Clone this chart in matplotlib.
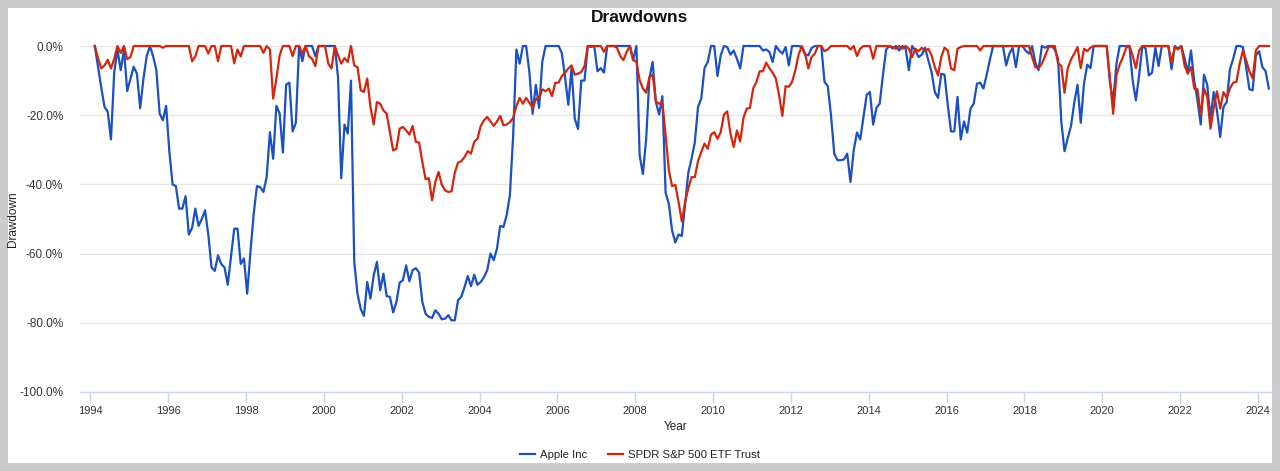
import numpy as np
import matplotlib.pyplot as plt
from matplotlib.patches import Rectangle
from matplotlib.lines import Line2D

plt.rcParams['font.family'] = ['Liberation Sans', 'DejaVu Sans']

# monthly drawdowns in %, Jan 1994 .. Mar 2024
apple_dd = [
    0, -6, -12, -17.6, -19, -27, -7.5, -1, -7, -1, -13, -9.5,
    -6, -8, -18, -9.5, -3, 0, -3, -7, -19.5, -21.5, -17.3, -30.6,
    -40, -40.5, -47, -47, -43.4, -54.5, -52.6, -47, -52, -50, -47.5, -54.5,
    -64, -65, -60.5, -63, -64, -69, -61, -52.8, -52.8, -63, -61.4, -71.6,
    -59.5, -48.5, -40.5, -40.8, -42.2, -37.9, -24.9, -32.6, -17.3, -19.5, -30.8, -11.2,
    -10.6, -24.7, -22.2, 0, -4.4, 0, 0, 0, -2.9, 0, 0, 0,
    0, 0, 0, -9, -38.2, -22.7, -25.3, -10, -62.4, -71.6, -76, -78,
    -68.2, -73, -66.3, -62.4, -70.6, -65.8, -72.3, -72.5, -77, -74, -68.4, -67.7,
    -63.4, -68, -64.8, -64.2, -65.5, -74, -77.4, -78.3, -78.6, -76.4, -77.4, -79,
    -78.8, -77.8, -79.3, -79.3, -73.5, -72.5, -69.7, -66.5, -69.4, -66.1, -69, -68.2,
    -66.8, -64.8, -60, -61.9, -58.6, -52, -52.3, -48.9, -43, -25.8, -1, -5.1,
    0, 0, -7.5, -19.6, -11.2, -17.9, -4.4, 0, 0, 0, 0, 0,
    -2, -9, -17, -6.4, -21, -24, -10, -10, 0, 0, 0, -7.3,
    -6.4, -7.7, 0, 0, 0, 0, 0, 0, 0, 0, -4, 0,
    -31.6, -37, -27, -9.4, -4.6, -16.2, -19.8, -14.5, -42.4, -45.6, -53.3, -56.8,
    -54.5, -54.9, -46, -36.6, -32.6, -27.9, -17.6, -15.2, -6.4, -4.6, 0, 0,
    -8.7, -2.7, 0, -0.3, -2.5, -1.3, -3.7, -6.5, 0, 0, 0, 0,
    0, 0, -1.3, -1, -1.7, -4.6, 0, -1.3, -2.2, -0.3, -5.6, 0,
    0, 0, -0.3, -2.5, -2.7, -0.6, 0, 0, 0, -10.4, -11.6, -20,
    -31.1, -33, -33, -32.8, -31.1, -39.3, -30.2, -25, -27, -20.5, -14.1, -13.3,
    -22.7, -17.9, -16.7, -8.5, -1, 0, -0.7, 0, -1.3, 0, -0.7, -7,
    0, -1.3, -3.2, -2.5, -0.5, -4.1, -7.5, -13.3, -15, -8, -8.3, -17.1,
    -24.7, -24.7, -14.7, -27, -21.8, -25, -18.1, -16.7, -10.9, -10.6, -12.3, -8.3,
    -3.9, 0, 0, 0, 0, -5.6, -2.2, -0.5, -6.1, 0, 0, -1.3,
    -2.2, 0, -4.8, -7, 0, -0.5, 0, 0, -1, -3.7, -21.8, -30.4,
    -26.6, -23.1, -16.4, -11.2, -22.2, -10.9, -5.4, -6.4, 0, 0, 0, 0,
    0, -10.4, -16.2, -5.1, 0, 0, 0, 0, -9.9, -15.7, -8.5, 0,
    -0.7, -8.5, -7.7, -0.5, -5.8, 0, 0, 0, -6.7, 0, -0.7, 0,
    -3.5, -7.7, -1.3, -10.2, -15.7, -22.7, -8.3, -11.2, -21, -13.3, -18.6, -26.3,
    -17.6, -16.2, -6.7, -3.7, 0, 0, -0.3, -6.1, -12.5, -12.8, -2.7, -1.5,
    -6.1, -7.3, -12.3,
]

spy_dd = [
    0, -3.5, -6.5, -5.6, -4, -6.5, -3.7, 0, -2, 0, -3.8, -3.2,
    0, 0, 0, 0, 0, 0, 0, 0, 0, -0.5, 0, 0,
    0, 0, 0, 0, 0, 0, -4.4, -3, 0, 0, 0, -2.2,
    0, 0, -4.4, 0, 0, 0, 0, -5, -1, -3, 0, 0,
    0, 0, 0, 0, -2, 0, -1, -15.2, -9.4, -2.7, 0, 0,
    0, -2.9, 0, 0, -2.2, 0, -2.9, -3.7, -5.8, 0, 0, 0,
    -5.1, -6.5, 0, -2.7, -5.1, -3.5, -4.6, 0, -5.6, -6.1, -12.8, -13.3,
    -9.4, -17.6, -22.7, -16.2, -16.7, -18.6, -19.6, -24.9, -30.2, -29.7, -23.9, -23.4,
    -24.4, -25.6, -23.1, -27.7, -27.9, -33.5, -38.5, -38.2, -44.6, -39.3, -36.4, -40.1,
    -41.7, -42.2, -42, -36.6, -33.7, -33.3, -32.1, -30.4, -31.1, -27.7, -26.8, -23.1,
    -21.5, -20.5, -21.8, -23.1, -21.8, -20.2, -22.9, -22.7, -22, -20.8, -17.3, -15,
    -16.7, -15, -16.4, -17.9, -15.4, -15, -12.5, -13.1, -12.3, -14.5, -10.6, -10.6,
    -8.7, -7.7, -6.5, -5.6, -8.3, -8, -7.5, -5.8, 0, -0.3, 0, 0,
    0, -1.7, 0, 0, 0, -0.5, -2.9, -4.1, -1.7, 0, -4.1, -4.5,
    -9.9, -12.3, -13.5, -9, -8.3, -16, -16.7, -16.2, -25.8, -35.9, -40.5, -40.1,
    -45.1, -50.7, -45.1, -41.2, -37.9, -37.9, -33.3, -30.6, -28.2, -29.7, -25.6, -24.9,
    -26.8, -24.9, -19.8, -18.9, -25.3, -29.2, -24.4, -27.6, -20.8, -18.1, -17.9, -12.3,
    -10.4, -7.3, -7.3, -4.8, -6.4, -7.7, -9.4, -14.3, -20.2, -11.6, -11.8, -10.4,
    -7, -2.5, 0, -2.2, -6.5, -3.2, -2.2, 0, 0, -1.5, -1, 0,
    0, 0, 0, 0, 0, -1, 0, -2.9, -0.8, 0, 0, 0,
    -3.7, 0, 0, 0, 0, 0, -0.3, -0.8, 0, -0.8, 0, -0.8,
    -3.2, -0.8, -1.5, -0.5, -1.5, -0.8, -2.7, -6.1, -8.5, -3.2, -0.5, -1.3,
    -6.5, -7, -0.8, -0.3, 0, 0, 0, 0, 0, -1.3, 0, 0,
    0, 0, 0, 0, 0, 0, 0, 0, 0, 0, 0, 0,
    0, -3.2, -6.1, -6.4, -5.1, -2.9, -0.5, 0, 0, -5, -5.8, -13.5,
    -6.4, -3.9, -2.2, -0.3, -6.4, -0.8, -1.5, -0.5, 0, 0, 0, 0,
    0, -9.4, -19.6, -8.5, -5.4, -3.2, -0.5, 0, -2.7, -6.4, -1.3, 0,
    0, 0, 0, 0, 0, 0, 0, 0, -4.8, -0.3, -1, 0,
    -5.6, -8, -6.1, -12.3, -12.5, -20, -12.3, -14.7, -23.9, -17.9, -13.1, -18.1,
    -13.3, -15, -12.3, -10.6, -10.4, -5.1, -1.3, -4.1, -7.3, -9.4, -1.3, 0,
    0, 0, 0,
]

series_names = ['Apple Inc', 'SPDR S&P 500 ETF Trust']
series_colors = ['#1a50c2', '#d4260c']
year_ticks = list(range(1994, 2025, 2))
pct_ticks = [0, -20, -40, -60, -80, -100]

# month-end points as fractional years
months = np.arange(len(apple_dd))
x = 1994 + (months + 1.35) / 12

W, H = 1280, 471
fig = plt.figure(figsize=(W / 100, H / 100), dpi=100, facecolor='#cccccc')
# white card inside the grey frame, kept behind the axes
fig.patches.append(Rectangle((8 / W, 8 / H), 1264 / W, 455 / H, transform=fig.transFigure,
                             facecolor='white', edgecolor='none', zorder=-10))

ax = fig.add_axes([80 / W, 79 / H, 1192 / W, 346 / H])
ax.set_facecolor('none')
ax.set_zorder(1)

ax.plot(x, apple_dd, color=series_colors[0], lw=1.6, clip_on=False, zorder=3)
ax.plot(x, spy_dd, color=series_colors[1], lw=1.6, clip_on=False, zorder=4)

ax.set_xlim(1993.733, 2024.36)
ax.set_ylim(-100, 0)

ax.set_xticks(year_ticks)
ax.set_xticklabels([str(y) for y in year_ticks])
ax.set_yticks(pct_ticks)
ax.set_yticklabels([f'{v:.1f}%' for v in pct_ticks])

ax.tick_params(axis='x', length=8, width=1, color='#ccd6eb', labelsize=8, labelcolor='#333333', pad=2)
ax.tick_params(axis='y', length=0, labelsize=8.5, labelcolor='#333333', pad=12)

ax.yaxis.grid(True, color='#e6e6e6', lw=1)
ax.set_axisbelow(True)
for side in ['top', 'left', 'right']:
    ax.spines[side].set_visible(False)
ax.spines['bottom'].set_color('#ccd6eb')
ax.spines['bottom'].set_linewidth(1)

fig.text(0.5, 1 - 17 / H, 'Drawdowns', ha='center', va='center', fontsize=12.5, fontweight='bold', color='#111111')
fig.text(13 / W, 1 - 219 / H, 'Drawdown', ha='center', va='center', rotation=90, fontsize=8.5, color='#222222')
fig.text(676 / W, 1 - 427 / H, 'Year', ha='center', va='center', fontsize=8.5, color='#222222')

handles = [Line2D([], [], color=c, lw=1.6) for c in series_colors]
fig.legend(handles, series_names, loc='center', bbox_to_anchor=(640 / W, 1 - 455 / H), ncol=2,
           frameon=False, fontsize=8.2, handlelength=1.35, handletextpad=0.45, columnspacing=1.8,
           labelcolor='#222222')

fig.savefig('out.png', dpi=100, facecolor=fig.get_facecolor())
